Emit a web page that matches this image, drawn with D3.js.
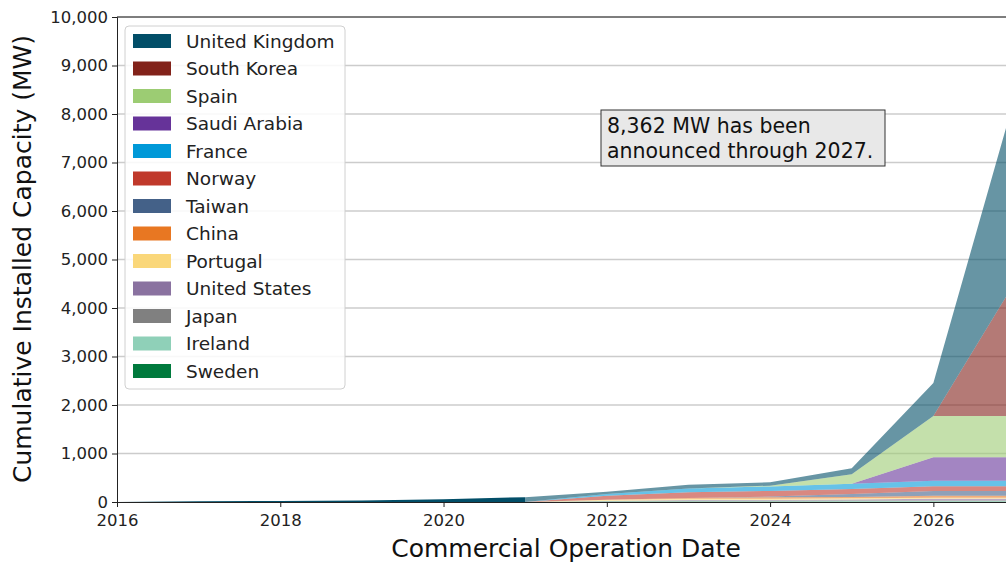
<!DOCTYPE html>
<html><head><meta charset="utf-8">
<script src="https://cdn.jsdelivr.net/npm/d3@7"></script>
<style>body{margin:0;background:#fff}svg{display:block;font-family:"DejaVu Sans",sans-serif}</style>
</head><body><svg id="c" width="1006" height="565"></svg>
<script>
const years = [2016,2017,2018,2019,2020,2021,2022,2023,2024,2025,2026,2027];
const countries = ["United Kingdom","South Korea","Spain","Saudi Arabia","France","Norway","Taiwan","China","Portugal","United States","Japan","Ireland","Sweden"];
const colors = ["#024e68","#82221a","#9ccc73","#663399","#0099d8","#c0392b","#446188","#e87722","#fad77a","#8a72a0","#808080","#8fd0b8","#007a3d"];
const ukVals      = [2,15,22,30,55,100,48,75,69,124,681,3826];
const koreaVals   = [0,0,0,0,0,0,0,0,0,0,0,2763];
const spainVals   = [0,0,0,0,0,0,0,0,15,195,852,852];
const saudiVals   = [0,0,0,0,0,0,0,0,0,0,485,485];
const franceVals  = [0,0,0,0,0,0,34,80,95,105,110,110];
const norwayVals  = [0,0,0,0,0,0,85,115,115,105,100,100];
const taiwanVals  = [0,0,0,0,0,0,0,0,15,60,96,96];
const chinaVals   = [0,0,0,0,0,0,0,20,30,30,40,40];
const portugalVals= [0,0,0,0,0,0,25,25,25,25,25,25];
const usVals      = [0,0,0,0,0,0,5,10,12,15,30,30];
const japanVals   = [0,0,0,0,0,0,0,15,15,15,15,15];
const irelandVals = [0,0,0,0,0,0,5,5,5,10,10,10];
const swedenVals  = [0,0,0,0,0,0,10,10,10,10,10,10];
const yTicks = [0,1000,2000,3000,4000,5000,6000,7000,8000,9000,10000];
const xTicks = [2016,2018,2020,2022,2024,2026];
const histEnd = 2021;
const note = ["8,362 MW has been","announced through 2027."];

const series = [ukVals,koreaVals,spainVals,saudiVals,franceVals,norwayVals,taiwanVals,chinaVals,portugalVals,usVals,japanVals,irelandVals,swedenVals];
const rows = years.map((y,i)=>{const r={year:y};countries.forEach((c,k)=>r[c]=series[k][i]);return r;});
const stackOrder = countries.slice().reverse(); // Sweden at bottom, UK on top
const stacked = d3.stack().keys(stackOrder)(rows);

const svg = d3.select("#c");
const L=117,T=17,B=502;
const x = d3.scaleLinear().domain([2016,2027]).range([L,1015]);
const y = d3.scaleLinear().domain([0,10000]).range([B,T]);

const defs = svg.append("defs");
defs.append("clipPath").attr("id","hist").append("rect").attr("x",L).attr("y",T).attr("width",x(histEnd)-L).attr("height",B-T);
defs.append("clipPath").attr("id","fut").append("rect").attr("x",x(histEnd)).attr("y",T).attr("width",1015-x(histEnd)).attr("height",B-T);

// grid
svg.append("g").selectAll("line").data(yTicks.slice(1)).join("line")
  .attr("x1",L).attr("x2",1006).attr("y1",d=>y(d)).attr("y2",d=>y(d))
  .attr("stroke","#cccccc").attr("stroke-width",1.5);

const area = d3.area().x(d=>x(d.data.year)).y0(d=>y(d[0])).y1(d=>y(d[1]));
const colorOf = k=>colors[countries.indexOf(k)];
svg.append("g").attr("clip-path","url(#hist)").selectAll("path").data(stacked).join("path")
  .attr("d",area).attr("fill",d=>colorOf(d.key));
svg.append("g").attr("clip-path","url(#fut)").selectAll("path").data(stacked).join("path")
  .attr("d",area).attr("fill",d=>colorOf(d.key)).attr("fill-opacity",0.6);

// axes
const ya = svg.append("g").attr("transform",`translate(${L},0)`)
  .call(d3.axisLeft(y).tickValues(yTicks).tickFormat(d3.format(",")).tickSize(5).tickPadding(4));
const xa = svg.append("g").attr("transform",`translate(0,${B})`)
  .call(d3.axisBottom(x).tickValues(xTicks).tickFormat(d3.format("d")).tickSize(5).tickPadding(7));
[ya,xa].forEach(g=>{g.selectAll("text").attr("font-size",16.5).attr("fill","#222").attr("font-family","DejaVu Sans");
  g.selectAll("line").attr("stroke","#222"); g.select(".domain").attr("stroke","#222");});
svg.append("line").attr("x1",L).attr("x2",1006).attr("y1",T).attr("y2",T).attr("stroke","#222");

svg.append("text").attr("transform",`translate(31,259) rotate(-90)`).attr("text-anchor","middle")
  .attr("font-size",25).attr("fill","#111").text("Cumulative Installed Capacity (MW)");
svg.append("text").attr("x",566).attr("y",557).attr("text-anchor","middle")
  .attr("font-size",25).attr("fill","#111").text("Commercial Operation Date");

// legend
const lg = svg.append("g");
lg.append("rect").attr("x",125).attr("y",26).attr("width",220).attr("height",363).attr("rx",4)
  .attr("fill","#fff").attr("fill-opacity",0.85).attr("stroke","#d0d0d0");
const items = lg.selectAll("g.it").data(countries).join("g").attr("class","it")
  .attr("transform",(d,i)=>`translate(0,${41+i*27.5})`);
items.append("rect").attr("x",133).attr("y",-7).attr("width",38).attr("height",14).attr("fill",(d,i)=>colors[i]);
items.append("text").attr("x",186).attr("y",6.5).attr("font-size",18.5).attr("fill","#222").text(d=>d);

// annotation
svg.append("rect").attr("x",601).attr("y",110).attr("width",284).attr("height",56)
  .attr("fill","#e8e8e8").attr("stroke","#333").attr("stroke-width",1);
svg.append("g").selectAll("text").data(note).join("text").attr("x",607).attr("y",(d,i)=>133+i*25)
  .attr("font-size",20.5).attr("fill","#111").text(d=>d);
</script></body></html>
